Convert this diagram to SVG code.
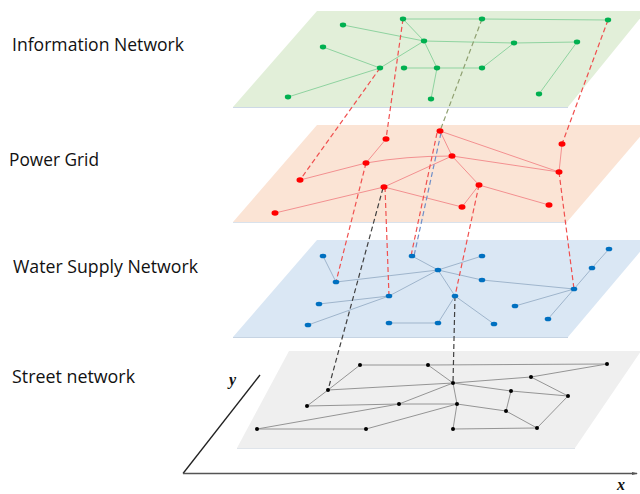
<svg xmlns="http://www.w3.org/2000/svg" width="640" height="494" viewBox="0 0 640 494">
<defs>
<style>
.lbl{font-family:"Open Sans","Noto Sans",sans-serif;font-size:17.5px;fill:#111}
.ax{font-family:"Liberation Serif",serif;font-style:italic;font-weight:bold;font-size:16px;fill:#111}
.eg{stroke:#8fd3a0;stroke-width:1;fill:none}
.er{stroke:#f39090;stroke-width:1;fill:none}
.eb{stroke:#9fb5cc;stroke-width:1;fill:none}
.ek{stroke:#8a8a8a;stroke-width:0.9;fill:none}
.ng{fill:#00b050}
.nr{fill:#ff0000}
.nb{fill:#0070c0}
.nk{fill:#000}
.dr{stroke:#f0504f;stroke-width:1.2;stroke-dasharray:5 3;fill:none}
.dk{stroke:#404040;stroke-width:1.2;stroke-dasharray:5 3;fill:none}
.dg{stroke:#8fa070;stroke-width:1.2;stroke-dasharray:5 3;fill:none}
.db{stroke:#6f8fc8;stroke-width:1.2;stroke-dasharray:5 3;fill:none}
</style>
<marker id="arr" markerWidth="6" markerHeight="6" refX="5" refY="3" orient="auto" markerUnits="userSpaceOnUse"><path d="M0,1.5 L6,3 L0,4.5 Z" fill="#555"/></marker>
</defs>
<rect width="640" height="494" fill="#fff"/>

<g id="planes">
<polygon points="317,11 646,11 568,107 233,107" fill="#e2efd9"/>
<line x1="233" y1="107.5" x2="568" y2="107.5" stroke="#cdd9e6" stroke-width="1"/>
<polygon points="317,125 650,125 567,222 233,222" fill="#fbe4d5"/>
<line x1="233" y1="222.5" x2="567" y2="222.5" stroke="#d9e2ec" stroke-width="1"/>
<polygon points="317,240 650,240 568,337 233,337" fill="#dae7f4"/>
<line x1="233" y1="337.5" x2="568" y2="337.5" stroke="#c6d4e3" stroke-width="1"/>
<polygon points="289,351 641,351 575,448 237,448" fill="#efefef"/>
<line x1="237" y1="448.5" x2="575" y2="448.5" stroke="#dfe4ea" stroke-width="1"/>
</g>

<g id="axes">
<line x1="183" y1="473.5" x2="260" y2="375" stroke="#222" stroke-width="1.3"/>
<line x1="183" y1="473.5" x2="637" y2="473.5" stroke="#555" stroke-width="1.6" marker-end="url(#arr)"/>
<text class="ax" x="229" y="385">y</text>
<text class="ax" x="617" y="490">x</text>
</g>

<g id="labels">
<text class="lbl" x="12" y="51" textLength="172" lengthAdjust="spacingAndGlyphs">Information Network</text>
<text class="lbl" x="9" y="166" textLength="90" lengthAdjust="spacingAndGlyphs">Power Grid</text>
<text class="lbl" x="13" y="273" textLength="185" lengthAdjust="spacingAndGlyphs">Water Supply Network</text>
<text class="lbl" x="12" y="383" textLength="123" lengthAdjust="spacingAndGlyphs">Street network</text>
</g>

<g id="connectors">
<g id="info-edges">
<line class="eg" x1="403" y1="19" x2="482" y2="19"/>
<line class="eg" x1="482" y1="19" x2="608" y2="20"/>
<line class="eg" x1="403" y1="19" x2="424" y2="41"/>
<line class="eg" x1="343" y1="25" x2="424" y2="41"/>
<line class="eg" x1="424" y1="41" x2="514" y2="43"/>
<line class="eg" x1="514" y1="43" x2="577" y2="42"/>
<line class="eg" x1="424" y1="41" x2="380" y2="68"/>
<line class="eg" x1="323" y1="47" x2="380" y2="68"/>
<line class="eg" x1="380" y1="68" x2="288" y2="97"/>
<line class="eg" x1="424" y1="41" x2="437" y2="68"/>
<line class="eg" x1="404" y1="68" x2="482" y2="68"/>
<line class="eg" x1="482" y1="68" x2="514" y2="43"/>
<line class="eg" x1="437" y1="68" x2="431" y2="99"/>
<line class="eg" x1="577" y1="42" x2="539" y2="94"/>
</g>
<g id="power-edges">
<line class="er" x1="386" y1="139" x2="366" y2="163"/>
<line class="er" x1="366" y1="163" x2="300" y2="180"/>
<path class="er" d="M366,163 Q405,156 452,156"/>
<line class="er" x1="452" y1="156" x2="559" y2="172"/>
<line class="er" x1="440" y1="131" x2="452" y2="156"/>
<line class="er" x1="440" y1="131" x2="559" y2="172"/>
<line class="er" x1="562" y1="144" x2="559" y2="172"/>
<line class="er" x1="452" y1="156" x2="384" y2="187"/>
<line class="er" x1="384" y1="187" x2="275" y2="213"/>
<line class="er" x1="384" y1="187" x2="462" y2="207"/>
<line class="er" x1="462" y1="207" x2="479" y2="185"/>
<line class="er" x1="452" y1="156" x2="479" y2="185"/>
<line class="er" x1="479" y1="185" x2="549" y2="205"/>
</g>
<g id="water-edges">
<line class="eb" x1="323" y1="256" x2="336" y2="282"/>
<line class="eb" x1="336" y1="282" x2="438" y2="270"/>
<line class="eb" x1="412" y1="256" x2="438" y2="270"/>
<line class="eb" x1="482" y1="256" x2="438" y2="270"/>
<line class="eb" x1="438" y1="270" x2="482" y2="280"/>
<line class="eb" x1="482" y1="280" x2="574" y2="289"/>
<line class="eb" x1="438" y1="270" x2="389" y2="296"/>
<line class="eb" x1="389" y1="296" x2="319" y2="304"/>
<line class="eb" x1="389" y1="296" x2="308" y2="325"/>
<line class="eb" x1="438" y1="270" x2="455" y2="296"/>
<line class="eb" x1="455" y1="296" x2="494" y2="324"/>
<line class="eb" x1="455" y1="296" x2="438" y2="323"/>
<line class="eb" x1="389" y1="323" x2="438" y2="323"/>
<line class="eb" x1="574" y1="289" x2="592" y2="268"/>
<line class="eb" x1="592" y1="268" x2="609" y2="249"/>
<line class="eb" x1="574" y1="289" x2="515" y2="306"/>
<line class="eb" x1="574" y1="289" x2="548" y2="319"/>
</g>
<g id="street-edges">
<line class="ek" x1="360" y1="365" x2="428" y2="365"/>
<line class="ek" x1="428" y1="365" x2="607" y2="364"/>
<line class="ek" x1="428" y1="365" x2="453" y2="383"/>
<line class="ek" x1="360" y1="365" x2="328" y2="390"/>
<line class="ek" x1="328" y1="390" x2="453" y2="383"/>
<line class="ek" x1="453" y1="383" x2="531" y2="377"/>
<line class="ek" x1="531" y1="377" x2="607" y2="364"/>
<line class="ek" x1="453" y1="383" x2="511" y2="391"/>
<line class="ek" x1="511" y1="391" x2="568" y2="396"/>
<line class="ek" x1="531" y1="377" x2="568" y2="396"/>
<line class="ek" x1="511" y1="391" x2="506" y2="411"/>
<line class="ek" x1="328" y1="390" x2="307" y2="406"/>
<line class="ek" x1="307" y1="406" x2="399" y2="404"/>
<line class="ek" x1="399" y1="404" x2="457" y2="404"/>
<line class="ek" x1="399" y1="404" x2="453" y2="383"/>
<line class="ek" x1="257" y1="429" x2="399" y2="404"/>
<line class="ek" x1="257" y1="429" x2="366" y2="429"/>
<line class="ek" x1="366" y1="429" x2="457" y2="404"/>
<line class="ek" x1="457" y1="404" x2="453" y2="383"/>
<line class="ek" x1="457" y1="404" x2="506" y2="411"/>
<line class="ek" x1="457" y1="404" x2="453" y2="429"/>
<line class="ek" x1="453" y1="429" x2="537" y2="428"/>
<line class="ek" x1="506" y1="411" x2="537" y2="428"/>
<line class="ek" x1="537" y1="428" x2="568" y2="396"/>
</g>
<g id="interlayer">
<line class="dr" x1="380" y1="68" x2="300" y2="180"/>
<line class="dr" x1="403" y1="19" x2="386" y2="139"/>
<line class="dg" x1="482" y1="19" x2="440" y2="131"/>
<line class="dr" x1="608" y1="20" x2="562" y2="144"/>
<line class="dr" x1="437" y1="133" x2="411" y2="256"/>
<line class="db" x1="441" y1="133" x2="414" y2="256"/>
<line class="dr" x1="366" y1="163" x2="336" y2="282"/>
<line class="dr" x1="385" y1="187" x2="389" y2="296"/>
<line class="dk" x1="383" y1="188" x2="328" y2="390"/>
<line class="dr" x1="479" y1="185" x2="455" y2="296"/>
<line class="dk" x1="455" y1="296" x2="453" y2="383"/>
<line class="dr" x1="559" y1="172" x2="574" y2="289"/>
</g>
</g>

<g id="info-nodes">
<g id="i1"><ellipse class="ng" cx="403" cy="19" rx="3.2" ry="2.4"/></g>
<g id="i2"><ellipse class="ng" cx="482" cy="19" rx="3.2" ry="2.4"/></g>
<g id="i3"><ellipse class="ng" cx="608" cy="20" rx="3.2" ry="2.4"/></g>
<g id="i4"><ellipse class="ng" cx="343" cy="25" rx="3.2" ry="2.4"/></g>
<g id="i5"><ellipse class="ng" cx="424" cy="41" rx="3.2" ry="2.4"/></g>
<g id="i6"><ellipse class="ng" cx="514" cy="43" rx="3.2" ry="2.4"/></g>
<g id="i7"><ellipse class="ng" cx="577" cy="42" rx="3.2" ry="2.4"/></g>
<g id="i8"><ellipse class="ng" cx="323" cy="47" rx="3.2" ry="2.4"/></g>
<g id="i9"><ellipse class="ng" cx="380" cy="68" rx="3.2" ry="2.4"/></g>
<g id="i10"><ellipse class="ng" cx="404" cy="68" rx="3.2" ry="2.4"/></g>
<g id="i11"><ellipse class="ng" cx="437" cy="68" rx="3.2" ry="2.4"/></g>
<g id="i12"><ellipse class="ng" cx="482" cy="68" rx="3.2" ry="2.4"/></g>
<g id="i13"><ellipse class="ng" cx="288" cy="97" rx="3.2" ry="2.4"/></g>
<g id="i14"><ellipse class="ng" cx="431" cy="99" rx="3.2" ry="2.4"/></g>
<g id="i15"><ellipse class="ng" cx="539" cy="94" rx="3.2" ry="2.4"/></g>
</g>

<g id="power-nodes">
<g id="p1"><ellipse class="nr" cx="386" cy="139" rx="3.5" ry="2.7"/></g>
<g id="p2"><ellipse class="nr" cx="440" cy="131" rx="3.5" ry="2.7"/></g>
<g id="p3"><ellipse class="nr" cx="562" cy="144" rx="3.5" ry="2.7"/></g>
<g id="p4"><ellipse class="nr" cx="366" cy="163" rx="3.5" ry="2.7"/></g>
<g id="p5"><ellipse class="nr" cx="452" cy="156" rx="3.5" ry="2.7"/></g>
<g id="p6"><ellipse class="nr" cx="559" cy="172" rx="3.5" ry="2.7"/></g>
<g id="p7"><ellipse class="nr" cx="300" cy="180" rx="3.5" ry="2.7"/></g>
<g id="p8"><ellipse class="nr" cx="384" cy="187" rx="3.5" ry="2.7"/></g>
<g id="p9"><ellipse class="nr" cx="479" cy="185" rx="3.5" ry="2.7"/></g>
<g id="p10"><ellipse class="nr" cx="275" cy="213" rx="3.5" ry="2.7"/></g>
<g id="p11"><ellipse class="nr" cx="462" cy="207" rx="3.5" ry="2.7"/></g>
<g id="p12"><ellipse class="nr" cx="549" cy="205" rx="3.5" ry="2.7"/></g>
</g>

<g id="water-nodes">
<g id="w1"><ellipse class="nb" cx="323" cy="256" rx="3.3" ry="2.3"/></g>
<g id="w2"><ellipse class="nb" cx="412" cy="256" rx="3.3" ry="2.3"/></g>
<g id="w3"><ellipse class="nb" cx="482" cy="256" rx="3.3" ry="2.3"/></g>
<g id="w4"><ellipse class="nb" cx="609" cy="249" rx="3.3" ry="2.3"/></g>
<g id="w5"><ellipse class="nb" cx="438" cy="270" rx="3.3" ry="2.3"/></g>
<g id="w6"><ellipse class="nb" cx="592" cy="268" rx="3.3" ry="2.3"/></g>
<g id="w7"><ellipse class="nb" cx="482" cy="280" rx="3.3" ry="2.3"/></g>
<g id="w8"><ellipse class="nb" cx="336" cy="282" rx="3.3" ry="2.3"/></g>
<g id="w9"><ellipse class="nb" cx="574" cy="289" rx="3.3" ry="2.3"/></g>
<g id="w10"><ellipse class="nb" cx="389" cy="296" rx="3.3" ry="2.3"/></g>
<g id="w11"><ellipse class="nb" cx="455" cy="296" rx="3.3" ry="2.3"/></g>
<g id="w12"><ellipse class="nb" cx="319" cy="304" rx="3.3" ry="2.3"/></g>
<g id="w13"><ellipse class="nb" cx="515" cy="306" rx="3.3" ry="2.3"/></g>
<g id="w14"><ellipse class="nb" cx="548" cy="319" rx="3.3" ry="2.3"/></g>
<g id="w15"><ellipse class="nb" cx="308" cy="325" rx="3.3" ry="2.3"/></g>
<g id="w16"><ellipse class="nb" cx="389" cy="323" rx="3.3" ry="2.3"/></g>
<g id="w17"><ellipse class="nb" cx="438" cy="323" rx="3.3" ry="2.3"/></g>
<g id="w18"><ellipse class="nb" cx="494" cy="324" rx="3.3" ry="2.3"/></g>
</g>

<g id="street-nodes">
<g id="s1"><circle class="nk" cx="360" cy="365" r="2"/></g>
<g id="s2"><circle class="nk" cx="428" cy="365" r="2"/></g>
<g id="s3"><circle class="nk" cx="607" cy="364" r="2"/></g>
<g id="s4"><circle class="nk" cx="531" cy="377" r="2"/></g>
<g id="s5"><circle class="nk" cx="453" cy="383" r="2"/></g>
<g id="s6"><circle class="nk" cx="328" cy="390" r="2"/></g>
<g id="s7"><circle class="nk" cx="511" cy="391" r="2"/></g>
<g id="s8"><circle class="nk" cx="568" cy="396" r="2"/></g>
<g id="s9"><circle class="nk" cx="307" cy="406" r="2"/></g>
<g id="s10"><circle class="nk" cx="399" cy="404" r="2"/></g>
<g id="s11"><circle class="nk" cx="457" cy="404" r="2"/></g>
<g id="s12"><circle class="nk" cx="506" cy="411" r="2"/></g>
<g id="s13"><circle class="nk" cx="257" cy="429" r="2"/></g>
<g id="s14"><circle class="nk" cx="366" cy="429" r="2"/></g>
<g id="s15"><circle class="nk" cx="453" cy="429" r="2"/></g>
<g id="s16"><circle class="nk" cx="537" cy="428" r="2"/></g>
</g>
</svg>
